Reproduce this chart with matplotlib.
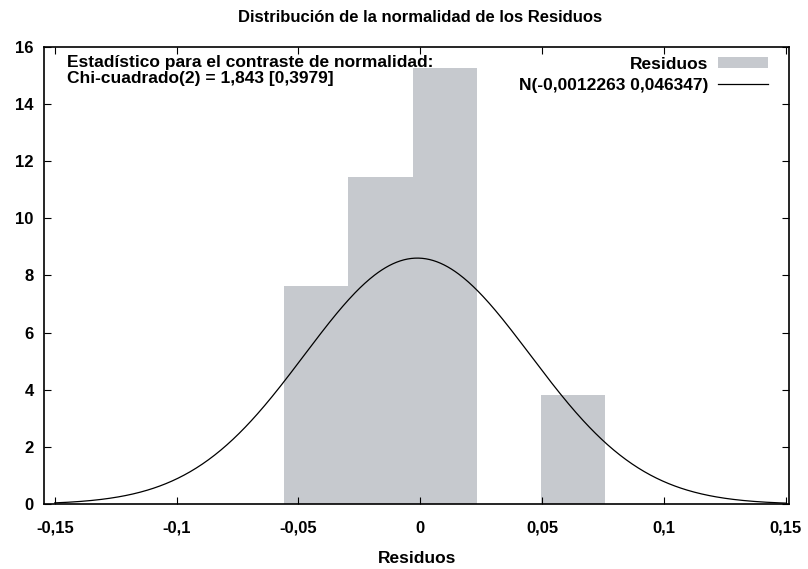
import numpy as np
import matplotlib
matplotlib.use("Agg")
import matplotlib.pyplot as plt
from matplotlib.ticker import FuncFormatter

plt.rcParams['font.family'] = ['Liberation Sans', 'DejaVu Sans']
plt.rcParams['font.weight'] = 'bold'

# histogram of residuals (density), bin edges
bin_edges = [-0.0558, -0.0295, -0.0032, 0.0231, 0.0494, 0.0757]
densities = [7.63, 11.45, 15.27, 0.0, 3.82]

mu = -0.0012263
sigma = 0.046347

title = "Distribución de la normalidad de los Residuos"
stat_text = "Estadístico para el contraste de normalidad:\nChi-cuadrado(2) = 1,843 [0,3979]"
curve_label = "N(-0,0012263 0,046347)"

xticks = [-0.15, -0.1, -0.05, 0, 0.05, 0.1, 0.15]
yticks = [0, 2, 4, 6, 8, 10, 12, 14, 16]

fig = plt.figure(figsize=(8.08, 5.69), dpi=100)
ax = fig.add_axes([0.0545, 0.1137, 0.9223, 0.8043])

lefts = np.array(bin_edges[:-1])
widths = np.diff(bin_edges)
bars = ax.bar(lefts, densities, width=widths, align='edge', color='#c6c9ce',
              edgecolor='none', label='Residuos', zorder=1)

xlim = (-0.1544, 0.1514)
xs = np.linspace(-0.15, 0.15, 600)
ys = np.exp(-0.5 * ((xs - mu) / sigma) ** 2) / (sigma * np.sqrt(2 * np.pi))
line, = ax.plot(xs, ys, color='black', lw=0.9, label=curve_label, zorder=2)

ax.set_xlim(*xlim)
ax.set_ylim(0, 16)
ax.set_xticks(xticks)
ax.set_yticks(yticks)

def comma(v, pos):
    s = ('%g' % round(v, 4)).replace('.', ',')
    return '0' if s in ('-0', '0') else s

ax.xaxis.set_major_formatter(FuncFormatter(comma))
ax.yaxis.set_major_formatter(FuncFormatter(comma))
ax.tick_params(direction='in', length=5, width=0.8, top=True, right=True,
               labelsize=12)
ax.tick_params(axis='x', pad=12)
ax.tick_params(axis='y', pad=7.5)
for lab in ax.get_xticklabels() + ax.get_yticklabels():
    lab.set_fontweight('bold')
for sp in ax.spines.values():
    sp.set_linewidth(1.2)

fig.text(0.52, 0.969, title, ha='center', va='center', fontsize=12, fontweight='bold')
ax.set_xlabel("Residuos", fontsize=12.5, fontweight='bold', labelpad=10.5)

ax.text(0.0305, 0.982, stat_text, transform=ax.transAxes, ha='left', va='top',
        fontsize=12.5, fontweight='bold', linespacing=1.09)

leg = ax.legend([bars, line], ['Residuos', curve_label],
                loc='upper right', bbox_to_anchor=(0.9714, 0.9775),
                frameon=False, markerfirst=False,
                handlelength=2.88, handleheight=0.57,
                borderaxespad=0, borderpad=0, labelspacing=0.32,
                handletextpad=0.57,
                prop={'weight': 'bold', 'size': 12.5})

fig.savefig("out.png", dpi=100)
